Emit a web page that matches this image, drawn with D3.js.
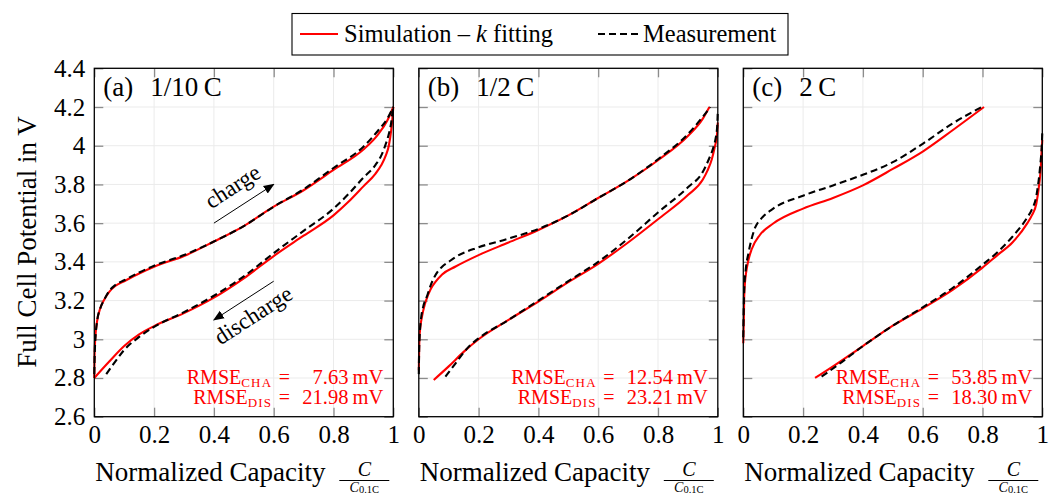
<!DOCTYPE html>
<html>
<head>
<meta charset="utf-8">
<script src="https://cdn.jsdelivr.net/npm/d3@7"></script>
<style>
  body { margin: 0; background: #fff; }
</style>
</head>
<body>
<div id="chart"></div>
<script>
// declare global values
const WIDTH = 1056;
const HEIGHT = 493;
const PANEL_LEFT = [94.3, 418.8, 743.3];
const PANEL_W = 299;
const TOP = 68.3;
const BOTTOM = 416.7;
const FONT = "Liberation Serif";

// ticks and labels
const xTicks = [0, 0.2, 0.4, 0.6, 0.8, 1];
const xTickLabels = ["0", "0.2", "0.4", "0.6", "0.8", "1"];
const yTicks = [2.6, 2.8, 3.0, 3.2, 3.4, 3.6, 3.8, 4.0, 4.2, 4.4];
const yTickLabels = ["2.6", "2.8", "3", "3.2", "3.4", "3.6", "3.8", "4", "4.2", "4.4"];
const panelTags = ["(a)", "(b)", "(c)"];
const panelRates = ["1/10\u2009C", "1/2\u2009C", "2\u2009C"];
const rmseCha = ["7.63", "12.54", "53.85"];
const rmseDis = ["21.98", "23.21", "18.30"];

// (a) 1/10 C  -- [normalized capacity, voltage]
const chaSimA = [[0,2.8],[0.001,2.92],[0.003,3.0],[0.009,3.09],[0.02,3.16],[0.035,3.21],[0.05,3.245],[0.07,3.275],[0.1,3.3],[0.15,3.34],[0.2,3.375],[0.3,3.43],[0.4,3.505],[0.5,3.585],[0.6,3.685],[0.7,3.77],[0.8,3.875],[0.9,3.98],[0.95,4.06],[0.98,4.13],[1,4.2]];
const chaMeasA = [[0,2.82],[0.002,2.95],[0.005,3.03],[0.01,3.1],[0.02,3.16],[0.035,3.21],[0.05,3.25],[0.07,3.28],[0.1,3.305],[0.15,3.345],[0.2,3.38],[0.3,3.435],[0.4,3.505],[0.5,3.585],[0.6,3.685],[0.7,3.775],[0.8,3.885],[0.9,3.995],[0.95,4.08],[0.98,4.14],[1,4.2]];
const disSimA = [[0,2.8],[0.05,2.885],[0.1,2.965],[0.15,3.025],[0.2,3.068],[0.3,3.135],[0.4,3.215],[0.5,3.315],[0.6,3.43],[0.7,3.535],[0.8,3.64],[0.85,3.71],[0.9,3.79],[0.94,3.855],[0.96,3.9],[0.975,3.95],[0.985,4.0],[0.993,4.08],[0.997,4.14],[1,4.2]];
const disMeasA = [[0.04,2.82],[0.07,2.885],[0.1,2.945],[0.15,3.012],[0.2,3.064],[0.3,3.14],[0.4,3.225],[0.5,3.325],[0.6,3.445],[0.7,3.56],[0.8,3.675],[0.85,3.75],[0.9,3.835],[0.94,3.9],[0.96,3.95],[0.975,4.01],[0.985,4.06],[0.993,4.12],[0.997,4.17],[1,4.2]];

// (b) 1/2 C
const chaSimB = [[0,2.84],[0.001,2.93],[0.002,3.0],[0.005,3.06],[0.011,3.12],[0.02,3.18],[0.03,3.225],[0.04,3.26],[0.055,3.295],[0.078,3.335],[0.123,3.376],[0.2,3.435],[0.3,3.5],[0.4,3.565],[0.5,3.64],[0.6,3.73],[0.7,3.82],[0.8,3.925],[0.9,4.05],[0.95,4.14],[0.972,4.2]];
const chaMeasB = [[0,2.82],[0.001,2.93],[0.003,3.02],[0.007,3.1],[0.015,3.17],[0.028,3.225],[0.04,3.28],[0.055,3.33],[0.078,3.375],[0.1,3.4],[0.123,3.425],[0.2,3.475],[0.3,3.52],[0.4,3.57],[0.5,3.64],[0.6,3.73],[0.7,3.82],[0.8,3.93],[0.9,4.06],[0.95,4.15],[0.975,4.2]];
const disSimB = [[0.05,2.79],[0.1,2.86],[0.15,2.935],[0.2,3.0],[0.3,3.1],[0.4,3.195],[0.5,3.295],[0.6,3.39],[0.7,3.5],[0.8,3.62],[0.9,3.745],[0.95,3.825],[0.965,3.87],[0.98,3.93],[0.99,3.995],[0.997,4.05],[1,4.12]];
const disMeasB = [[0.089,2.807],[0.123,2.876],[0.167,2.962],[0.2,3.005],[0.3,3.1],[0.4,3.2],[0.5,3.3],[0.6,3.4],[0.7,3.52],[0.8,3.655],[0.9,3.785],[0.95,3.865],[0.97,3.93],[0.985,3.99],[0.993,4.04],[0.998,4.1],[1,4.18]];

// (c) 2 C
const chaSimC = [[0,2.98],[0.001,3.05],[0.002,3.116],[0.003,3.22],[0.006,3.3],[0.009,3.34],[0.017,3.408],[0.028,3.465],[0.056,3.54],[0.1,3.598],[0.2,3.675],[0.3,3.73],[0.4,3.795],[0.5,3.88],[0.6,3.97],[0.7,4.08],[0.805,4.2]];
const chaMeasC = [[0,3.01],[0.001,3.116],[0.003,3.254],[0.008,3.357],[0.017,3.443],[0.028,3.52],[0.039,3.575],[0.06,3.623],[0.1,3.675],[0.2,3.742],[0.3,3.795],[0.4,3.85],[0.5,3.915],[0.6,4.01],[0.7,4.115],[0.797,4.2]];
const disSimC = [[0.24,2.8],[0.3,2.86],[0.4,2.965],[0.5,3.07],[0.6,3.16],[0.7,3.255],[0.8,3.37],[0.85,3.435],[0.9,3.5],[0.95,3.6],[0.965,3.64],[0.98,3.7],[0.99,3.805],[0.995,3.89],[0.997,3.95],[1,4.03]];
const disMeasC = [[0.262,2.807],[0.323,2.875],[0.4,2.965],[0.5,3.07],[0.6,3.165],[0.7,3.265],[0.8,3.385],[0.85,3.45],[0.9,3.53],[0.95,3.63],[0.965,3.67],[0.98,3.74],[0.99,3.85],[0.995,3.93],[0.998,3.99],[1,4.07]];

const simSeries = [[chaSimA, disSimA], [chaSimB, disSimB], [chaSimC, disSimC]];
const measSeries = [[chaMeasA, disMeasA], [chaMeasB, disMeasB], [chaMeasC, disMeasC]];

const svg = d3
  .select("#chart")
  .append("svg")
  .attr("width", WIDTH)
  .attr("height", HEIGHT);

svg.append("defs")
  .append("marker")
  .attr("id", "arrow")
  .attr("viewBox", "0 0 10 10")
  .attr("refX", 9)
  .attr("refY", 5)
  .attr("markerWidth", 11)
  .attr("markerHeight", 11)
  .attr("markerUnits", "userSpaceOnUse")
  .attr("orient", "auto")
  .append("path")
  .attr("d", "M0,1 L10,5 L0,9 Z")
  .attr("fill", "#000");

var y = d3.scaleLinear().domain([2.6, 4.4]).range([BOTTOM, TOP]);

PANEL_LEFT.forEach(function (left, i) {
  var x = d3.scaleLinear().domain([0, 1]).range([left, left + PANEL_W]);
  var g = svg.append("g");

  // grid
  g.selectAll(".vgrid")
    .data(xTicks.slice(1, -1))
    .enter()
    .append("line")
    .attr("x1", (d) => x(d)).attr("x2", (d) => x(d))
    .attr("y1", TOP).attr("y2", BOTTOM)
    .attr("stroke", "#ebebeb").attr("stroke-width", 1);
  g.selectAll(".hgrid")
    .data(yTicks.slice(1, -1))
    .enter()
    .append("line")
    .attr("x1", left).attr("x2", left + PANEL_W)
    .attr("y1", (d) => y(d)).attr("y2", (d) => y(d))
    .attr("stroke", "#ebebeb").attr("stroke-width", 1);

  // axes with inward ticks
  var axL = g.append("g")
    .attr("transform", `translate(${left},0)`)
    .call(d3.axisLeft(y).tickValues(yTicks).tickSize(-9).tickPadding(9)
      .tickFormat((d, k) => (i === 0 ? yTickLabels[k] : "")));
  var axR = g.append("g")
    .attr("transform", `translate(${left + PANEL_W},0)`)
    .call(d3.axisRight(y).tickValues(yTicks).tickSize(-9).tickFormat(""));
  var axT = g.append("g")
    .attr("transform", `translate(0,${TOP})`)
    .call(d3.axisTop(x).tickValues(xTicks).tickSize(-9).tickFormat(""));
  var axB = g.append("g")
    .attr("transform", `translate(0,${BOTTOM})`)
    .call(d3.axisBottom(x).tickValues(xTicks).tickSize(-9).tickPadding(9)
      .tickFormat((d, k) => xTickLabels[k]));
  [axL, axR, axT, axB].forEach(function (ax) {
    ax.attr("font-family", null).attr("font-size", null);
    ax.select(".domain").remove();
    ax.selectAll(".tick line").attr("stroke", "#8c8c8c").attr("stroke-width", 1.3);
    ax.selectAll(".tick text").attr("fill", "#000").attr("font-size", 25);
  });

  // curves
  var valueLine = d3.line()
    .x((d) => x(d[0]))
    .y((d) => y(d[1]))
    .curve(d3.curveMonotoneX);

  simSeries[i].forEach(function (arr) {
    g.append("path")
      .datum(arr)
      .attr("d", valueLine)
      .attr("fill", "none")
      .attr("stroke", "#ff0000")
      .attr("stroke-width", 2.1);
  });
  measSeries[i].forEach(function (arr) {
    g.append("path")
      .datum(arr)
      .attr("d", valueLine)
      .attr("fill", "none")
      .attr("stroke", "#000")
      .attr("stroke-width", 2.1)
      .attr("stroke-dasharray", "7,4");
  });

  // frame
  g.append("rect")
    .attr("x", left).attr("y", TOP)
    .attr("width", PANEL_W).attr("height", BOTTOM - TOP)
    .attr("fill", "none").attr("stroke", "#000").attr("stroke-width", 1.3);

  // panel label
  var lab = g.append("text")
    .attr("x", left + 9).attr("y", 96)
    .attr("font-size", 27);
  lab.append("tspan").text(panelTags[i]);
  lab.append("tspan").attr("dx", 17).text(panelRates[i]);

  // RMSE labels
  var right = left + PANEL_W;
  [[rmseCha[i], "CHA", 384], [rmseDis[i], "DIS", 404]].forEach(function (r) {
    var t = g.append("text")
      .attr("x", right - 121).attr("y", r[2])
      .attr("text-anchor", "end")
      .attr("fill", "#ff0000")
      .attr("font-size", 20);
    t.append("tspan").text("RMSE");
    t.append("tspan").attr("dy", 3).attr("font-size", 13).attr("letter-spacing", 1.2).text(r[1]);
    g.append("text")
      .attr("x", right - 109).attr("y", r[2])
      .attr("text-anchor", "middle")
      .attr("fill", "#ff0000")
      .attr("font-size", 20)
      .text("=");
    g.append("text")
      .attr("x", right - 10).attr("y", r[2])
      .attr("text-anchor", "end")
      .attr("fill", "#ff0000")
      .attr("font-size", 20.5)
      .text(r[0] + "\u2009mV");
  });

  // x axis title with fraction
  g.append("text")
    .attr("x", left + 1).attr("y", 481)
    .attr("font-size", 27)
    .text("Normalized Capacity");
  var fx = left + 270;
  g.append("text")
    .attr("x", fx).attr("y", 476)
    .attr("text-anchor", "middle")
    .attr("font-size", 20)
    .attr("font-style", "italic")
    .text("C");
  g.append("line")
    .attr("x1", fx - 25).attr("x2", fx + 25)
    .attr("y1", 480.5).attr("y2", 480.5)
    .attr("stroke", "#000").attr("stroke-width", 1);
  var den = g.append("text")
    .attr("x", fx).attr("y", 491.5)
    .attr("text-anchor", "middle")
    .attr("font-size", 14);
  den.append("tspan").attr("font-style", "italic").text("C");
  den.append("tspan").attr("dy", 1).attr("font-size", 10.5).text("0.1C");
});

// annotations in panel (a)
var xa = d3.scaleLinear().domain([0, 1]).range([PANEL_LEFT[0], PANEL_LEFT[0] + PANEL_W]);
const arrowCharge = [[0.4, 3.6], [0.6, 3.8]];
const arrowDischarge = [[0.6, 3.3], [0.4, 3.1]];

[[arrowCharge, "charge", -13], [arrowDischarge, "discharge", 25]].forEach(function (a) {
  var p0 = a[0][0], p1 = a[0][1];
  svg.append("line")
    .attr("x1", xa(p0[0])).attr("y1", y(p0[1]))
    .attr("x2", xa(p1[0])).attr("y2", y(p1[1]))
    .attr("stroke", "#000").attr("stroke-width", 1)
    .attr("marker-end", "url(#arrow)");
  var mx = (xa(p0[0]) + xa(p1[0])) / 2;
  var my = (y(p0[1]) + y(p1[1])) / 2;
  var ang = Math.atan2(y(arrowCharge[1][1]) - y(arrowCharge[0][1]),
                       xa(arrowCharge[1][0]) - xa(arrowCharge[0][0])) * 180 / Math.PI;
  svg.append("text")
    .attr("transform", `translate(${mx},${my}) rotate(${ang})`)
    .attr("y", a[2])
    .attr("text-anchor", "middle")
    .attr("font-size", 23)
    .text(a[1]);
});

// y axis title
svg.append("text")
  .attr("transform", "translate(36,242) rotate(-90)")
  .attr("text-anchor", "middle")
  .attr("font-size", 27)
  .text("Full Cell Potential in V");

// legend
var legend = svg.append("g");
legend.append("rect")
  .attr("x", 292).attr("y", 13.5)
  .attr("width", 496).attr("height", 41.5)
  .attr("fill", "#fff").attr("stroke", "#000").attr("stroke-width", 1.1);
legend.append("line")
  .attr("x1", 300).attr("x2", 338).attr("y1", 34).attr("y2", 34)
  .attr("stroke", "#ff0000").attr("stroke-width", 2.1);
var lt = legend.append("text").attr("x", 344).attr("y", 42).attr("font-size", 24.5);
lt.append("tspan").text("Simulation \u2013 ");
lt.append("tspan").attr("font-style", "italic").text("k");
lt.append("tspan").text(" fitting");
legend.append("line")
  .attr("x1", 598).attr("x2", 638).attr("y1", 34).attr("y2", 34)
  .attr("stroke", "#000").attr("stroke-width", 2.1)
  .attr("stroke-dasharray", "7,4");
legend.append("text").attr("x", 643).attr("y", 42).attr("font-size", 24.5).text("Measurement");

// set the serif face on every text node directly
svg.selectAll("text").attr("font-family", FONT);
svg.selectAll("tspan").attr("font-family", FONT);
</script>
</body>
</html>
